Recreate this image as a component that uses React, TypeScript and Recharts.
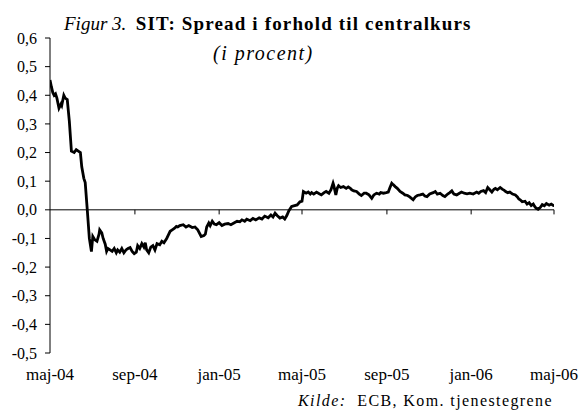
import { LineChart, Line, XAxis, YAxis, ReferenceLine } from "recharts";

// days since 1 May 2004
const days = [
  0, 2, 4, 6, 8, 10, 13, 16, 17, 20, 22, 25, 28, 31, 35, 38, 41, 44, 46, 49, 51, 54, 57, 60, 62, 65, 68, 71, 72, 75,
  77, 80, 82, 84, 87, 90, 93, 96, 98, 101, 104, 107, 110, 113, 116, 119, 122, 125, 127, 130, 133, 136, 138, 140, 143,
  146, 149, 152, 155, 159, 162, 165, 169, 171, 174, 177, 180, 183, 185, 188, 193, 197, 201, 206, 210, 214, 219, 223,
  225, 227, 230, 232, 235, 238, 241, 245, 249, 253, 258, 262, 267, 271, 275, 278, 282, 285, 290, 294, 298, 303, 307,
  311, 316, 320, 323, 326, 329, 333, 337, 340, 343, 346, 350, 353, 358, 362, 365, 367, 371, 374, 377, 379, 382, 386,
  390, 393, 397, 400, 404, 407, 410, 411, 414, 416, 418, 421, 425, 429, 432, 435, 437, 440, 444, 448, 451, 455, 458,
  462, 466, 469, 473, 477, 479, 483, 487, 490, 492, 495, 497, 500, 503, 507, 511, 514, 518, 521, 526, 529, 532, 536,
  540, 543, 546, 550, 555, 558, 561, 565, 569, 572, 576, 579, 582, 585, 589, 593, 596, 600, 604, 608, 613, 618, 621,
  624, 628, 631, 634, 637, 640, 643, 645, 648, 652, 655, 658, 660, 663, 666, 670, 674, 677, 679, 681, 684, 688, 691,
  694, 697, 700, 702, 704, 707, 710, 713, 716, 719, 723, 726, 729, 731,
];

const spread = [
  0.453, 0.43, 0.41, 0.4, 0.405, 0.39, 0.355, 0.37, 0.365, 0.4, 0.39, 0.385, 0.31, 0.205, 0.2, 0.21, 0.205, 0.2, 0.15,
  0.11, 0.095, 0.0, -0.1, -0.146, -0.093, -0.105, -0.11, -0.085, -0.07, -0.08,
  -0.1, -0.12, -0.145, -0.135, -0.14, -0.145, -0.135, -0.15, -0.14, -0.148, -0.135, -0.15, -0.14, -0.135, -0.132,
  -0.145, -0.153, -0.148, -0.125, -0.135, -0.118, -0.13, -0.115, -0.14, -0.15,
  -0.13, -0.125, -0.14, -0.118, -0.122, -0.11, -0.115, -0.1, -0.09, -0.075, -0.07, -0.065, -0.058, -0.06, -0.055,
  -0.052, -0.06, -0.055, -0.062, -0.06, -0.07, -0.093, -0.09,
  -0.085, -0.06, -0.046, -0.055, -0.04, -0.05, -0.052, -0.045, -0.055, -0.05, -0.048, -0.052, -0.045, -0.04, -0.042,
  -0.035, -0.04, -0.033, -0.038, -0.03, -0.035, -0.028, -0.032,
  -0.022, -0.028, -0.018, -0.025, -0.012, -0.02, -0.029, -0.025, -0.032, -0.02, -0.003, 0.012, 0.014, 0.017, 0.028,
  0.03, 0.064, 0.058, 0.062, 0.055, 0.06, 0.055, 0.062,
  0.056, 0.052, 0.06, 0.064, 0.058, 0.07, 0.093, 0.085, 0.052, 0.075, 0.084, 0.078, 0.081, 0.075, 0.08, 0.075, 0.07,
  0.066, 0.064, 0.055, 0.05, 0.058, 0.058,
  0.052, 0.04, 0.052, 0.058, 0.055, 0.06, 0.058, 0.06, 0.062, 0.075, 0.093, 0.088, 0.081, 0.075, 0.064, 0.058, 0.052,
  0.05, 0.045, 0.035, 0.045, 0.05, 0.052,
  0.055, 0.048, 0.046, 0.055, 0.06, 0.064, 0.055, 0.058, 0.05, 0.046, 0.055, 0.06, 0.066, 0.055, 0.052, 0.058, 0.062,
  0.058, 0.056, 0.058, 0.055, 0.062, 0.058,
  0.064, 0.067, 0.06, 0.078, 0.07, 0.062, 0.072, 0.075, 0.07, 0.078, 0.072, 0.068, 0.064, 0.06, 0.062, 0.055, 0.052,
  0.045, 0.038, 0.035, 0.028, 0.03, 0.02,
  0.025, 0.015, 0.02, 0.012, 0.006, 0.002, 0.008, 0.018, 0.014, 0.022, 0.016, 0.02, 0.015, 0.014,
];

const tickDays = [0, 123, 245, 365, 488, 610, 730];
const tickLabels = ["maj-04", "sep-04", "jan-05", "maj-05", "sep-05", "jan-06", "maj-06"];
const yTicks = [-0.5, -0.4, -0.3, -0.2, -0.1, 0, 0.1, 0.2, 0.3, 0.4, 0.5, 0.6];

const data = days.map((d, i) => ({ day: d, v: spread[i] }));

const serif = "Liberation Serif";
const tickStyle = { fontSize: 16, fontFamily: serif, fill: "#000" };

export default function App() {
  return (
    <div style={{ position: "absolute", left: 0, top: 0, width: 579, height: 412, background: "#fff", fontFamily: serif }}>
      <LineChart width={579} height={412} data={data} margin={{ top: 38, right: 25, left: 0, bottom: 43 }}>
        <XAxis
          type="number" dataKey="day" domain={[0, 730]} ticks={tickDays} allowDataOverflow
          tickFormatter={(d: number) => tickLabels[tickDays.indexOf(d)] ?? ""}
          axisLine={false} tickLine={false} tick={{ ...tickStyle, fontSize: 17 }} tickMargin={9} height={16}
        />
        <YAxis
          domain={[-0.5, 0.6]} ticks={yTicks} width={50} tick={tickStyle}
          tickFormatter={(v: number) => v.toFixed(1).replace(".", ",")}
          axisLine={{ stroke: "#000", strokeWidth: 1 }} tickLine={{ stroke: "#000" }} tickSize={5} tickMargin={8}
        />
        <ReferenceLine y={0} stroke="#000" strokeWidth={1} ifOverflow="extendDomain" />
        {tickDays.slice(1).map(d => (
          <ReferenceLine key={d} segment={[{ x: d, y: 0 }, { x: d, y: -0.016 }]} stroke="#000" strokeWidth={1} />
        ))}
        <Line dataKey="v" type="linear" stroke="#000" strokeWidth={2.8} dot={false} isAnimationActive={false} />
      </LineChart>
      <div style={{ position: "absolute", left: 64, top: 13, fontSize: 19, whiteSpace: "nowrap", color: "#000" }}>
        <i>Figur 3.</i>&nbsp;&nbsp;<b style={{ letterSpacing: 1.15 }}>SIT: Spread i forhold til centralkurs</b>
      </div>
      <div style={{ position: "absolute", left: 213, top: 42, fontSize: 20, fontStyle: "italic", whiteSpace: "nowrap", letterSpacing: 1.5 }}>
        (i procent)
      </div>
      <div style={{ position: "absolute", left: 298, top: 392, fontSize: 16, whiteSpace: "nowrap", letterSpacing: 1.4 }}>
        <i>Kilde:</i>&nbsp; ECB, Kom. tjenestegrene
      </div>
    </div>
  );
}
